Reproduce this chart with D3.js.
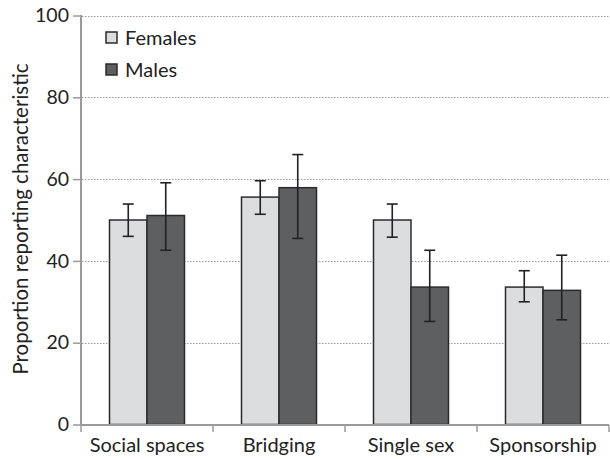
<!DOCTYPE html>
<html><head><meta charset="utf-8">
<script src="https://cdn.jsdelivr.net/npm/d3@7"></script>
<style>body{margin:0;background:#fff}svg{display:block}text{font-family:Lato,sans-serif;fill:#222}</style>
</head><body>
<svg id="c" width="610" height="459"></svg>
<script>
const categories = ["Social spaces","Bridging","Single sex","Sponsorship"];
const seriesNames = ["Females","Males"];
const femaleValues = [50, 55.6, 50, 33.6];
const femaleLow = [46, 51.4, 45.8, 30];
const femaleHigh = [53.9, 59.6, 53.9, 37.6];
const maleValues = [51.1, 57.9, 33.6, 32.8];
const maleLow = [42.6, 45.5, 25.2, 25.6];
const maleHigh = [59.1, 66, 42.6, 41.4];
const yTicks = [0,20,40,60,80,100];

const FONT = "Lato";
const svg = d3.select("#c");
const x = d3.scaleBand().domain(categories).range([81,609]).paddingInner(0).paddingOuter(0);
const y = d3.scaleLinear().domain([0,100]).range([424.5,15.5]);
const inner = d3.scaleBand().domain(seriesNames).range([0,x.bandwidth()]).paddingInner(0).paddingOuter(0.76);
const colors = {Females:"#dcdddf", Males:"#5e5f61"};

// grid
svg.append("g").selectAll("line").data(yTicks.filter(d=>d>0)).join("line")
  .attr("x1",82).attr("x2",609).attr("y1",d=>Math.round(y(d))+0.5).attr("y2",d=>Math.round(y(d))+0.5)
  .attr("stroke","#9a9a9a").attr("stroke-width",1).attr("stroke-dasharray","1.5,1.5");

const data = [];
categories.forEach((c,i)=>{
  data.push({c, s:"Females", v:femaleValues[i], lo:femaleLow[i], hi:femaleHigh[i]});
  data.push({c, s:"Males", v:maleValues[i], lo:maleLow[i], hi:maleHigh[i]});
});

svg.append("g").selectAll("rect").data(data).join("rect")
  .attr("x",d=>x(d.c)+inner(d.s)).attr("width",inner.bandwidth())
  .attr("y",d=>y(d.v)).attr("height",d=>y(0)-y(d.v))
  .attr("fill",d=>colors[d.s]).attr("stroke","#2b2b2b").attr("stroke-width",1.5);

const eb = svg.append("g").attr("stroke","#222").attr("stroke-width",1.6);
data.forEach(d=>{
  const cx = x(d.c)+inner(d.s)+inner.bandwidth()/2;
  eb.append("line").attr("x1",cx).attr("x2",cx).attr("y1",y(d.hi)).attr("y2",y(d.lo));
  eb.append("line").attr("x1",cx-5.5).attr("x2",cx+5.5).attr("y1",y(d.hi)).attr("y2",y(d.hi));
  eb.append("line").attr("x1",cx-5.5).attr("x2",cx+5.5).attr("y1",y(d.lo)).attr("y2",y(d.lo));
});

// axes
const yAxis = svg.append("g").attr("transform","translate(81,0)")
  .call(d3.axisLeft(y).tickValues(yTicks).tickSize(8).tickPadding(4));
yAxis.select(".domain").attr("stroke","#9a9a9a").attr("stroke-width",2).attr("d","M0,15V425");
yAxis.selectAll(".tick line").attr("stroke","#9a9a9a").attr("stroke-width",1.5);
yAxis.selectAll("text").attr("font-size",19.5).attr("fill","#222").attr("font-family",FONT);

const xAxis = svg.append("g").attr("transform","translate(0,425)")
  .call(d3.axisBottom(x).tickSize(0).tickPadding(12));
xAxis.select(".domain").attr("stroke","#9a9a9a").attr("stroke-width",2).attr("d","M80,0H609");
xAxis.selectAll("text").attr("font-size",20).attr("fill","#222").attr("font-family",FONT).attr("dy","0.75em");
svg.append("g").selectAll("line").data([...categories.map(c=>x(c)), 609]).join("line")
  .attr("x1",d=>d).attr("x2",d=>d).attr("y1",425).attr("y2",432)
  .attr("stroke","#9a9a9a").attr("stroke-width",1.5);

svg.append("text").attr("transform","translate(28,219) rotate(-90)")
  .attr("text-anchor","middle").attr("font-size",20.5)
  .attr("font-family",FONT).text("Proportion reporting characteristic");

// legend
const lg = svg.append("g").selectAll("g").data(seriesNames).join("g")
  .attr("transform",(d,i)=>`translate(106,${32+i*32})`);
lg.append("rect").attr("width",11).attr("height",11).attr("fill",d=>colors[d]).attr("stroke","#2b2b2b").attr("stroke-width",1.5);
lg.append("text").attr("x",19).attr("y",12.5).attr("font-size",20).attr("font-family",FONT).text(d=>d);
</script>
</body></html>
